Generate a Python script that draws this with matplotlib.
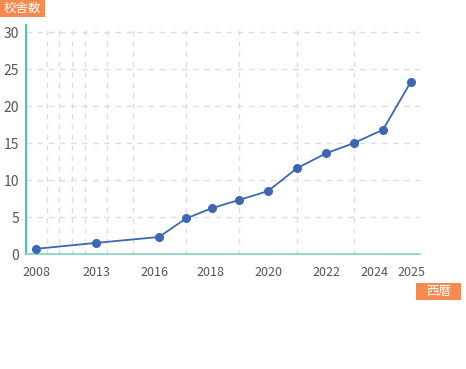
import numpy as np
import matplotlib
matplotlib.use("Agg")
import matplotlib.pyplot as plt
import matplotlib.transforms as mtransforms
from matplotlib.patches import Rectangle

plt.rcParams['font.family'] = ['Noto Sans CJK JP', 'DejaVu Sans']

# data
years = [2008, 2013, 2016, 2017, 2018, 2019, 2020, 2021, 2022, 2023, 2024, 2025]
counts = [0.7, 1.5, 2.3, 4.8, 6.2, 7.3, 8.5, 11.6, 13.6, 15.0, 16.8, 23.3]
label_years = [2008, 2013, 2016, 2018, 2020, 2022, 2024, 2025]
y_ticks = [0, 5, 10, 15, 20, 25, 30]

# uneven x axis spacing as in the original (year -> position)
scale_years = np.arange(2007, 2027)
scale_pos = np.array([24, 36, 47, 59, 72, 85, 96, 107, 133, 159, 186, 212,
                      239, 268, 297, 326, 354, 383, 411, 439], dtype=float)

def fwd(x):
    return np.interp(x, scale_years, scale_pos)

def inv(p):
    return np.interp(p, scale_pos, scale_years)

W, H = 466, 369
fig = plt.figure(figsize=(W / 100, H / 100), dpi=100)
# plot area in pixels: left 26, right 420, top 25, bottom 254
ax = fig.add_axes([26 / W, 1 - 254 / H, (420 - 26) / W, (254 - 25) / H])
ax.set_xscale('function', functions=(fwd, inv))

ax.plot(years, counts, color='#3d67b1', linewidth=1.3, marker='o',
        markersize=5.5, zorder=3, clip_on=False)

ax.set_xlim(inv(26), inv(420))
ax.set_ylim(0, 30.95)

ax.set_xticks(label_years)
ax.set_xticklabels([str(y) for y in label_years])
ax.set_xticks(range(2008, 2026), minor=True)
ax.set_yticks(y_ticks)

ax.grid(True, which='minor', axis='x', color='#dcdcdc', linestyle=(0, (3.5, 4)), linewidth=1)
ax.grid(True, which='major', axis='y', color='#dcdcdc', linestyle=(0, (4, 4)), linewidth=1)
ax.set_axisbelow(True)

ax.tick_params(axis='x', which='both', length=0, colors='#555555', labelsize=9, pad=9)
ax.tick_params(axis='y', which='both', length=0, colors='#555555', labelsize=10, pad=5)
ax.xaxis.set_minor_formatter(plt.NullFormatter())

# nudge crowded labels like the original
shifts = {'2016': -5, '2018': -2, '2024': -9}
for lab in ax.get_xticklabels():
    dx = shifts.get(lab.get_text(), 0)
    if dx:
        lab.set_transform(lab.get_transform() +
                          mtransforms.ScaledTranslation(dx / 100, 0, fig.dpi_scale_trans))

for s in ['top', 'right']:
    ax.spines[s].set_visible(False)
ax.spines['left'].set_color('#4fc3b0')
ax.spines['left'].set_linewidth(1.5)
ax.spines['bottom'].set_color('#7fd3c4')
ax.spines['bottom'].set_linewidth(1.2)

# axis name boxes
orange = '#f68b50'
fig.patches.append(Rectangle((0, 1 - 17 / H), 45 / W, 17 / H, transform=fig.transFigure,
                             facecolor=orange, edgecolor='none'))
fig.text(22.5 / W, 1 - 8.5 / H, '校舎数', color='white', fontsize=9,
         ha='center', va='center')
fig.patches.append(Rectangle((416 / W, 1 - 300 / H), 45 / W, 17 / H, transform=fig.transFigure,
                             facecolor=orange, edgecolor='none'))
fig.text(438.5 / W, 1 - 291.5 / H, '西暦', color='white', fontsize=9,
         ha='center', va='center')

fig.savefig('out.png', dpi=100)
